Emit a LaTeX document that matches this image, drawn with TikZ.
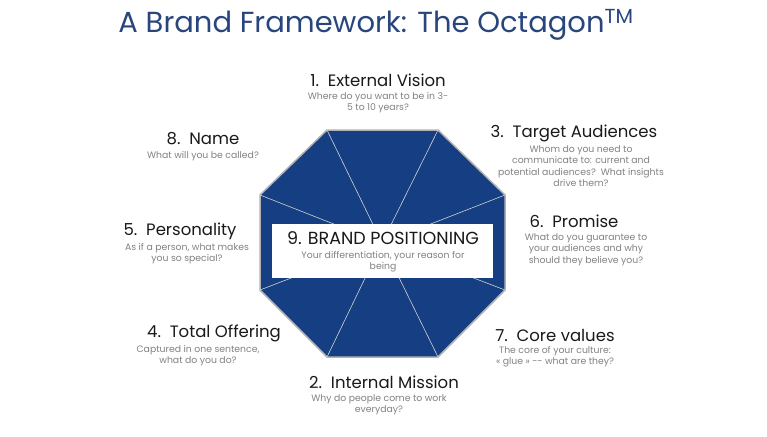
\documentclass[tikz,border=0pt]{standalone}
\usepackage{fontspec}
\setmainfont{Poppins}
\definecolor{navy}{RGB}{22,62,130}
\definecolor{ttl}{RGB}{40,70,125}
\definecolor{dsc}{RGB}{130,130,130}
\definecolor{hd}{RGB}{25,25,25}
\begin{document}
\begin{tikzpicture}[x=1pt,y=-1pt,
 hdr/.style={text=hd,font=\fontsize{16.5}{18}\selectfont,inner sep=0},
 dsc/.style={text=dsc,font=\fontsize{9.3}{11.6}\selectfont,align=center,inner sep=0,anchor=north},
 spoke/.style={draw=gray!35,line width=0.6pt}]
\useasboundingbox (0,0) rectangle (767,436);
\fill[white] (0,0) rectangle (767,436);
\node[text=ttl,font=\fontsize{29}{32}\selectfont,inner sep=0] (title) at (376,25) {A Brand Framework: The Octagon\textsuperscript{TM}};
\coordinate (c) at (382,243);
\coordinate (v1) at (327,130); \coordinate (v2) at (438,130);
\coordinate (v3) at (505,195); \coordinate (v4) at (505,290);
\coordinate (v5) at (438,357); \coordinate (v6) at (327,357);
\coordinate (v7) at (260,290); \coordinate (v8) at (260,195);
\filldraw[fill=navy,draw=gray!60,line width=1.5pt] (v1)--(v2)--(v3)--(v4)--(v5)--(v6)--(v7)--(v8)--cycle;
\foreach \v in {v1,v2,v3,v4,v5,v6,v7,v8} \draw[spoke] (c)--(\v);
\node[fill=white,minimum width=221pt,minimum height=54pt,inner sep=0] (box) at (382.5,251) {};
\node[hdr,font=\fontsize{17.5}{19}\selectfont] (h9) at (383,238) {9. BRAND POSITIONING};
\node[dsc] (d9) at (383,251) {Your differentiation, your reason for\\being};
\node[hdr] (h1) at (378,80) {1.\ \ External Vision};
\node[dsc] (d1) at (378,92) {Where do you want to be in 3-\\5 to 10 years?};
\node[hdr] (h8) at (203,139) {8.\ \ Name};
\node[dsc] (d8) at (203,151) {What will you be called?};
\node[hdr] (h3) at (574,133) {3.\ \ Target Audiences};
\node[dsc] (d3) at (581,145) {Whom do you need to\\communicate to: current and\\potential audiences?\ \ What insights\\drive them?};
\node[hdr] (h6) at (574,221) {6.\ \ Promise};
\node[dsc] (d6) at (586,233) {What do you guarantee to\\your audiences and why\\should they believe you?};
\node[hdr] (h5) at (180,231) {5.\ \ Personality};
\node[dsc] (d5) at (187,243) {As if a person, what makes\\you so special?};
\node[hdr] (h4) at (214,333) {4.\ \ Total Offering};
\node[dsc] (d4) at (198,345) {Captured in one sentence,\\what do you do?};
\node[hdr] (h7) at (555,335) {7.\ \ Core values};
\node[dsc] (d7) at (555,346) {The core of your culture:\\« glue » -{}- what are they?};
\node[hdr] (h2) at (384,382) {2.\ \ Internal Mission};
\node[dsc] (d2) at (379,394) {Why do people come to work\\everyday?};
\end{tikzpicture}
\end{document}
